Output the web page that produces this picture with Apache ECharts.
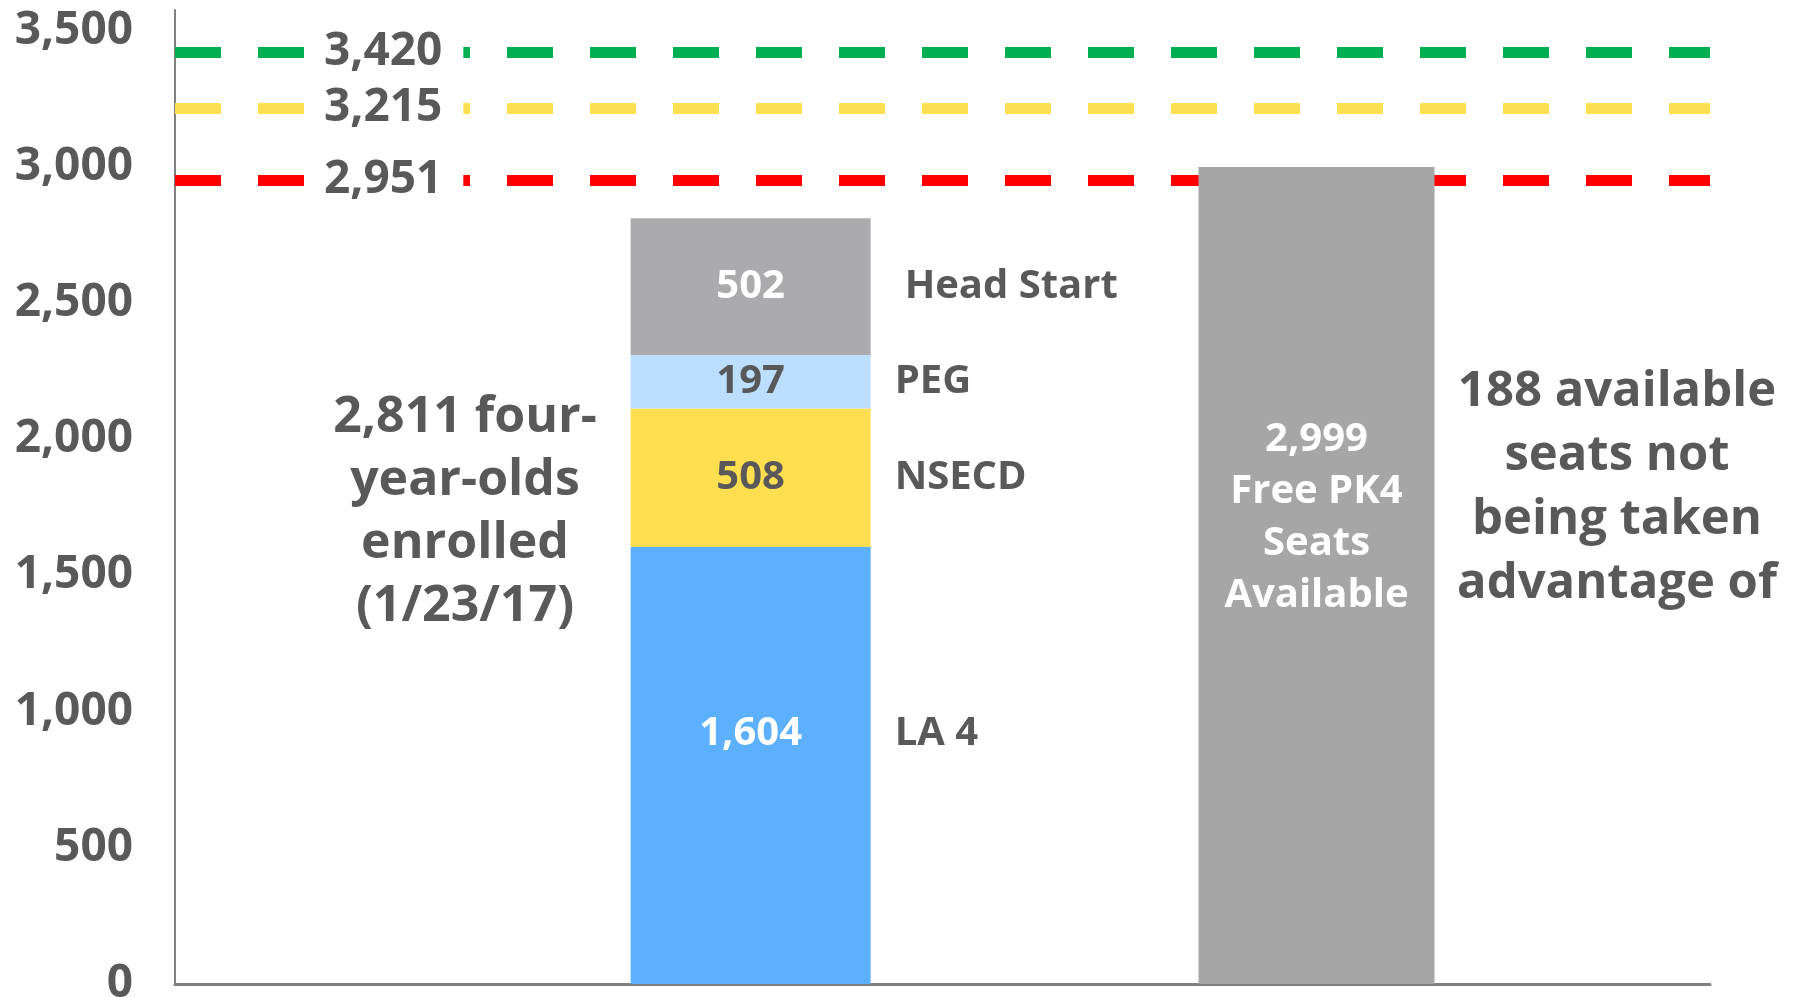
<!DOCTYPE html>
<html lang="en">
<head>
    <meta charset="UTF-8">
    <title>PK4 seats</title>
    <script src="https://cdn.jsdelivr.net/npm/echarts/dist/echarts.min.js"></script>
    <style>
        body { margin: 0; background: #fff; }
    </style>
</head>
<body>
    <div id="main" style="width: 1794px;height:997px;"></div>
</body>
<script type="text/javascript">
    // categories: the enrolled stack sits in slot 2 of 4, the free seats bar in slot 2 of 2
    var categories = ['', 'Enrolled', '', ''];
    var seatCategories = ['', 'Free PK4 Seats Available'];
    var stackNames = ['LA 4', 'NSECD', 'PEG', 'Head Start'];
    var stackValues = [1604, 508, 197, 502];
    var seatValues = ['-', 2999];
    var targetValues = [3420, 3215, 2951];

    var stackColors = ['#5cb0ff', '#ffdf4f', '#bcdfff', '#ababad'];
    var valueColors = ['#ffffff', '#595959', '#595959', '#ffffff'];
    var targetColors = ['#00b050', '#ffe052', '#ff0000'];
    var textColor = '#595959';
    var fontName = '"Open Sans", "Noto Sans", sans-serif';
    var yMax = 3575;

    function fmt(v) {
        return Number(v).toLocaleString('en-US');
    }

    var enrolled = stackValues.reduce(function (a, b) { return a + b; }, 0);
    var unused = seatValues[1] - enrolled;

    var series = [];
    stackNames.forEach(function (name, i) {
        var s = {
            name: name,
            type: 'bar',
            stack: 'enrolled',
            xAxisIndex: 0,
            yAxisIndex: 0,
            barWidth: 240,
            z: 3,
            itemStyle: { color: stackColors[i] },
            data: categories.map(function (c, k) { return k === 1 ? stackValues[i] : '-'; }),
            label: {
                show: true,
                position: 'insideLeft',
                distance: 0,
                offset: i === 0 ? [0, -32] : [0, 0],
                formatter: function (p) {
                    return '{v|' + fmt(p.value) + '}{n|' + p.seriesName + '}';
                },
                rich: {
                    v: { width: 240, align: 'center', color: valueColors[i], fontSize: 40, fontWeight: 'bold', fontFamily: fontName },
                    n: { align: 'center', color: textColor, fontSize: 40, fontWeight: 'bold', fontFamily: fontName,
                         padding: [0, 0, 0, i === 3 ? 34 : 24] }
                }
            }
        };
        if (i === 0) {
            // target lines, drawn under the bars
            s.markLine = {
                silent: true,
                z: 1,
                symbol: 'none',
                data: targetValues.map(function (v, j) {
                    return {
                        yAxis: v,
                        lineStyle: { color: targetColors[j], width: 11, type: [46, 37] },
                        label: {
                            show: true,
                            position: 'insideStart',
                            distance: [130, 0],
                            formatter: fmt(v),
                            color: textColor,
                            fontSize: 46,
                            fontWeight: 'bold',
                            fontFamily: fontName,
                            backgroundColor: '#ffffff',
                            padding: [2, 21, 2, 19]
                        }
                    };
                })
            };
        }
        series.push(s);
    });

    series.push({
        name: 'Free PK4 Seats',
        type: 'bar',
        xAxisIndex: 1,
        yAxisIndex: 1,
        barWidth: 236,
        z: 3,
        itemStyle: { color: '#a6a6a6' },
        data: seatValues,
        label: {
            show: true,
            position: 'inside',
            offset: [0, -58],
            color: '#ffffff',
            fontSize: 40,
            fontWeight: 'bold',
            fontFamily: fontName,
            lineHeight: 52,
            formatter: function (p) {
                return fmt(p.value) + '\nFree PK4\nSeats\nAvailable';
            }
        }
    });

    var myChart = echarts.init(document.getElementById('main'));
    var option = {
        animation: false,
        backgroundColor: '#ffffff',
        grid: [
            { left: 175, right: 84, top: 10, bottom: 13, outerBoundsMode: 'none', containLabel: false },
            { left: 175, right: 97, top: 10, bottom: 13, outerBoundsMode: 'none', containLabel: false }
        ],
        xAxis: [{
            type: 'category',
            gridIndex: 0,
            data: categories,
            axisLine: { lineStyle: { color: '#808080', width: 3 } },
            axisTick: { show: false },
            axisLabel: { show: false }
        }, {
            type: 'category',
            gridIndex: 1,
            data: seatCategories,
            show: false
        }],
        yAxis: [{
            type: 'value',
            gridIndex: 0,
            min: 0,
            max: yMax,
            interval: 500,
            splitLine: { show: false },
            axisLine: { show: true, lineStyle: { color: '#808080', width: 2 } },
            axisTick: { show: false },
            axisLabel: {
                margin: 42,
                color: textColor,
                fontSize: 46,
                fontWeight: 'bold',
                fontFamily: fontName,
                formatter: function (v) {
                    return v % 500 === 0 ? fmt(v) : '';
                }
            }
        }, {
            type: 'value',
            gridIndex: 1,
            min: 0,
            max: yMax,
            interval: 500,
            show: false,
            splitLine: { show: false }
        }],
        graphic: [{
            type: 'text',
            x: 465,
            y: 512,
            style: {
                text: fmt(enrolled) + ' four-\nyear-olds\nenrolled\n(1/23/17)',
                fill: textColor,
                fontSize: 50,
                fontWeight: 'bold',
                fontFamily: fontName,
                lineHeight: 63,
                align: 'center',
                verticalAlign: 'middle'
            }
        }, {
            type: 'text',
            x: 1617,
            y: 488,
            style: {
                text: unused + ' available\nseats not\nbeing taken\nadvantage of',
                fill: textColor,
                fontSize: 49,
                fontWeight: 'bold',
                fontFamily: fontName,
                lineHeight: 64,
                align: 'center',
                verticalAlign: 'middle'
            }
        }],
        series: series
    };
    myChart.setOption(option);
</script>
</html>
